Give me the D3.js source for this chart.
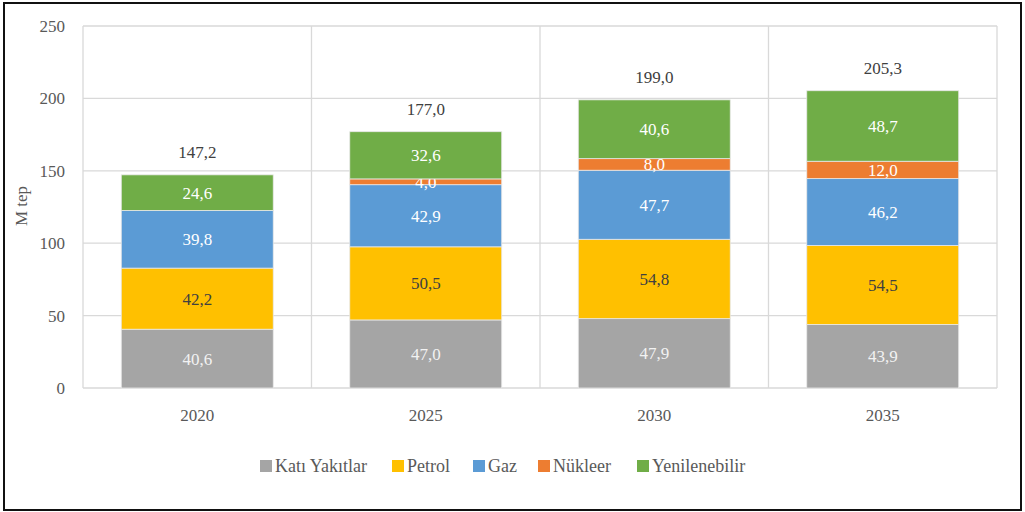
<!DOCTYPE html>
<html>
<head>
<meta charset="utf-8">
<script src="https://cdn.jsdelivr.net/npm/d3@7"></script>
<style>
  body { margin: 0; background: #fff; }
</style>
</head>
<body>
<div id="chart-area"></div>
<script>
// Data
var years = ["2020", "2025", "2030", "2035"];
var seriesNames = ["Katı Yakıtlar", "Petrol", "Gaz", "Nükleer", "Yenilenebilir"];
var katiYakitlar = [40.6, 47.0, 47.9, 43.9];
var petrol = [42.2, 50.5, 54.8, 54.5];
var gaz = [39.8, 42.9, 47.7, 46.2];
var nukleer = [0, 4.0, 8.0, 12.0];
var yenilenebilir = [24.6, 32.6, 40.6, 48.7];
var totals = [147.2, 177.0, 199.0, 205.3];
var yTicks = [0, 50, 100, 150, 200, 250];

var colors = ["#A5A5A5", "#FFC000", "#5B9BD5", "#ED7D31", "#70AD47"];
var labelColors = ["#f2f2f2", "#404040", "#ffffff", "#ffffff", "#ffffff"];
var FONT = "'Liberation Serif', 'Times New Roman', 'DejaVu Serif', serif";

var W = 1025, H = 512;
var margin = { left: 83, right: 28, top: 26, bottom: 124 },
    width = W - margin.left - margin.right,
    height = H - margin.top - margin.bottom;

var svg = d3.select("#chart-area")
    .append("svg")
    .attr("width", W)
    .attr("height", H)
    .attr("font-family", FONT);

// outer frame
svg.append("rect")
    .attr("x", 4).attr("y", 3)
    .attr("width", W - 8).attr("height", H - 5)
    .attr("fill", "none")
    .attr("stroke", "#111")
    .attr("stroke-width", 2);

var g = svg.append("g")
    .attr("transform", "translate(" + margin.left + "," + margin.top + ")");

// Scales
var x = d3.scaleBand().domain(years).range([0, width]).paddingInner(0).paddingOuter(0);
var y = d3.scaleLinear().domain([0, 250]).range([height, 0]);

// Grid
g.selectAll(".hgrid")
    .data(yTicks)
    .enter().append("line")
    .attr("class", "hgrid")
    .attr("x1", 0).attr("x2", width)
    .attr("y1", function(d){ return y(d); })
    .attr("y2", function(d){ return y(d); })
    .attr("stroke", "#d9d9d9")
    .attr("stroke-width", 1.3);

var vlines = [0].concat(years.map(function(d){ return x(d) + x.bandwidth(); }));
g.selectAll(".vgrid")
    .data(vlines)
    .enter().append("line")
    .attr("class", "vgrid")
    .attr("x1", function(d){ return d; })
    .attr("x2", function(d){ return d; })
    .attr("y1", 0).attr("y2", height)
    .attr("stroke", "#d9d9d9")
    .attr("stroke-width", 1.3);

// Y-axis labels
var yAxis = g.append("g")
    .call(d3.axisLeft(y).tickValues(yTicks).tickSize(0).tickPadding(18))
    .attr("font-family", FONT)
    .attr("font-size", "17px");
yAxis.select(".domain").remove();
yAxis.selectAll("text").attr("fill", "#595959");

// X-axis labels
var xAxis = g.append("g")
    .attr("transform", "translate(0," + height + ")")
    .call(d3.axisBottom(x).tickSize(0).tickPadding(21))
    .attr("font-family", FONT)
    .attr("font-size", "17px");
xAxis.select(".domain").remove();
xAxis.selectAll("text").attr("fill", "#595959");

// Y label
g.append("text")
    .attr("transform", "rotate(-90)")
    .attr("x", -180)
    .attr("y", -56)
    .attr("text-anchor", "middle")
    .attr("font-size", "17px")
    .attr("fill", "#595959")
    .text("M tep");

// Stack
var rows = years.map(function(yr, i){
    return { year: yr, s0: katiYakitlar[i], s1: petrol[i], s2: gaz[i], s3: nukleer[i], s4: yenilenebilir[i] };
});
var stack = d3.stack().keys(["s0", "s1", "s2", "s3", "s4"]);
var layers = stack(rows);

var barW = x.bandwidth() * 0.665;
var off = (x.bandwidth() - barW) / 2;

layers.forEach(function(layer, li){
    var lg = g.append("g").attr("class", "layer");
    var pts = layer.filter(function(p){ return p[1] - p[0] > 0; });
    lg.selectAll("rect")
        .data(pts)
        .enter().append("rect")
        .attr("x", function(d){ return x(d.data.year) + off; })
        .attr("width", barW)
        .attr("y", function(d){ return y(d[1]); })
        .attr("height", function(d){ return y(d[0]) - y(d[1]); })
        .attr("fill", colors[li])
        .attr("stroke", "#e8e8e8")
        .attr("stroke-width", 0.8);
    lg.selectAll("text")
        .data(pts)
        .enter().append("text")
        .attr("x", function(d){ return x(d.data.year) + x.bandwidth() / 2; })
        .attr("y", function(d){ return (y(d[0]) + y(d[1])) / 2 + 6; })
        .attr("text-anchor", "middle")
        .attr("font-size", "17px")
        .attr("fill", labelColors[li])
        .text(function(d){ return d3.format(".1f")(d[1] - d[0]).replace(".", ","); });
});

// Totals
g.selectAll(".total")
    .data(totals)
    .enter().append("text")
    .attr("class", "total")
    .attr("x", function(d, i){ return x(years[i]) + x.bandwidth() / 2; })
    .attr("y", function(d){ return y(d) - 17; })
    .attr("text-anchor", "middle")
    .attr("font-size", "17px")
    .attr("fill", "#404040")
    .text(function(d){ return d3.format(".1f")(d).replace(".", ","); });

// Legend
var legendX = [260, 392, 473, 538, 637];
var legend = svg.append("g").attr("transform", "translate(0,466)");
var li = legend.selectAll(".li")
    .data(seriesNames)
    .enter().append("g")
    .attr("transform", function(d, i){ return "translate(" + legendX[i] + ",0)"; });
li.append("rect")
    .attr("x", 0).attr("y", -6)
    .attr("width", 12).attr("height", 12)
    .attr("fill", function(d, i){ return colors[i]; });
li.append("text")
    .attr("x", 15).attr("y", 6)
    .attr("font-size", "18px")
    .attr("fill", "#595959")
    .text(function(d){ return d; });
</script>
</body>
</html>
